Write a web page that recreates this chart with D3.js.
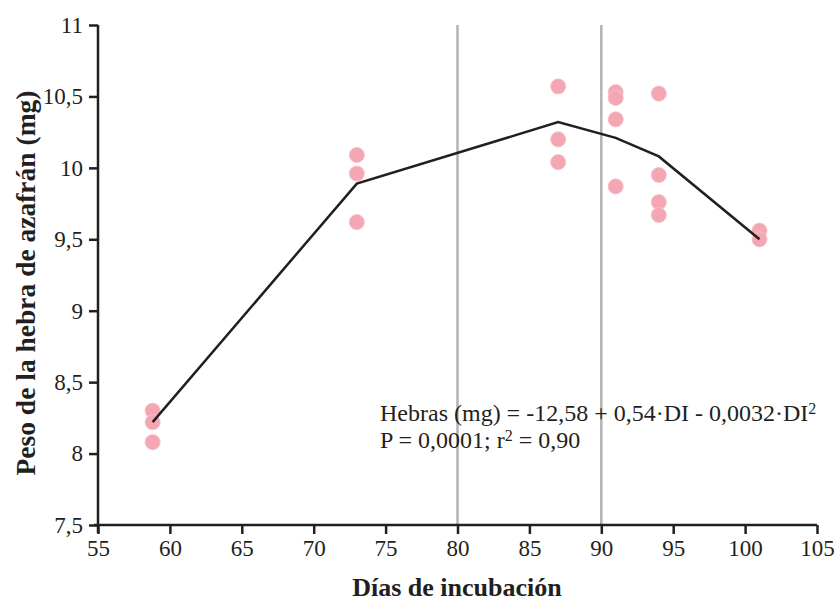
<!DOCTYPE html>
<html>
<head>
<meta charset="utf-8">
<script src="https://cdn.jsdelivr.net/npm/d3@7"></script>
<style>
  body { margin: 0; background: #fff; }
  svg text { font-family: "Liberation Serif", "Times New Roman", serif; fill: #231f20; }
</style>
</head>
<body>
<div id="chart"></div>
<script>
// observed points (days, weight in mg)
let pointDays = [58.8, 58.8, 58.8, 73, 73, 73, 87, 87, 87, 91, 91, 91, 91, 94, 94, 94, 94, 101, 101];
let pointWeights = [8.30, 8.22, 8.08, 10.09, 9.96, 9.62, 10.57, 10.20, 10.04, 10.53, 10.49, 10.34, 9.87, 10.52, 9.95, 9.76, 9.67, 9.56, 9.50];
// fitted line
let lineDays = [58.8, 73, 87, 91, 94, 101];
let lineWeights = [8.22, 9.89, 10.32, 10.21, 10.08, 9.50];
let refDays = [80, 90];
let xTicks = [55, 60, 65, 70, 75, 80, 85, 90, 95, 100, 105];
let yTicks = [7.5, 8, 8.5, 9, 9.5, 10, 10.5, 11];

let width = 835, height = 603;
let svg = d3.select("#chart").append("svg").attr("width", width).attr("height", height);

let x = d3.scaleLinear().domain([55, 105]).range([98, 817]);
let y = d3.scaleLinear().domain([7.5, 11]).range([525, 25]);
let fmt = (d) => String(d).replace(".", ",");

// reference lines
svg.selectAll(".ref")
  .data(refDays)
  .join("line")
  .attr("x1", (d) => x(d)).attr("x2", (d) => x(d))
  .attr("y1", y(11)).attr("y2", y(7.5))
  .attr("stroke", "#b3b3b3")
  .attr("stroke-width", 2.5);

// axes
let axisX = svg.append("g")
  .attr("transform", `translate(0,${y(7.5)})`)
  .call(d3.axisBottom(x).tickValues(xTicks).tickSize(9).tickPadding(6).tickSizeOuter(0).tickFormat(fmt));
let axisY = svg.append("g")
  .attr("transform", `translate(${x(55)},0)`)
  .call(d3.axisLeft(y).tickValues(yTicks).tickSize(9).tickPadding(6).tickSizeOuter(0).tickFormat(fmt));
[axisX, axisY].forEach((a) => {
  a.select(".domain").attr("stroke", "#231f20").attr("stroke-width", 2.5);
  a.selectAll(".tick line").attr("stroke", "#231f20").attr("stroke-width", 2.5);
  a.selectAll(".tick text").attr("font-size", 23).attr("fill", "#231f20")
    .style("font-family", "'Liberation Serif', serif");
});
axisX.select(".domain").attr("d", `M${x(55) - 4},0H${x(105)}`);
axisY.select(".domain").attr("d", `M0,${y(11)}V${y(7.5) + 8}`);

// points
svg.selectAll(".pt")
  .data(pointDays.map((d, i) => [d, pointWeights[i]]))
  .join("circle")
  .attr("cx", (d) => x(d[0]))
  .attr("cy", (d) => y(d[1]))
  .attr("r", 7.6)
  .attr("fill", "#f4a7b3")
  .attr("stroke", "#f7c3cb")
  .attr("stroke-width", 0.8);

// fitted line
svg.append("path")
  .datum(lineDays.map((d, i) => [d, lineWeights[i]]))
  .attr("fill", "none")
  .attr("stroke", "#231f20")
  .attr("stroke-width", 2.5)
  .attr("d", d3.line().x((d) => x(d[0])).y((d) => y(d[1])));

// equation
let eq = svg.append("text").attr("x", 380).attr("y", 421).attr("font-size", 24);
eq.append("tspan").text("Hebras (mg) = -12,58 + 0,54·DI - 0,0032·DI");
eq.append("tspan").attr("font-size", 16).attr("dy", -7).text("2");
let st = svg.append("text").attr("x", 380).attr("y", 448).attr("font-size", 24);
st.append("tspan").text("P = 0,0001; r");
st.append("tspan").attr("font-size", 16).attr("dy", -7).text("2");
st.append("tspan").attr("dy", 7).text(" = 0,90");

// axis titles
svg.append("text")
  .attr("x", 457).attr("y", 596)
  .attr("text-anchor", "middle")
  .attr("font-size", 26).attr("font-weight", "bold")
  .text("Días de incubación");
svg.append("text")
  .attr("transform", `translate(35,${283}) rotate(-90)`)
  .attr("text-anchor", "middle")
  .attr("font-size", 27.5).attr("font-weight", "bold")
  .text("Peso de la hebra de azafrán (mg)");
</script>
</body>
</html>
